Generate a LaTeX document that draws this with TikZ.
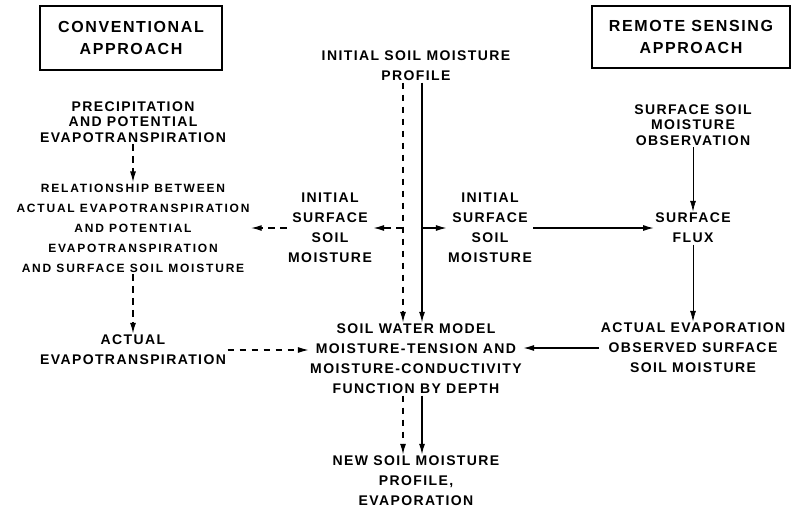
\documentclass[tikz,border=0pt]{standalone}
\usepackage{fontspec}
\newfontfamily\flowfont{Liberation Sans}[LetterSpace=10]
\newfontfamily\relfont{Liberation Sans}[LetterSpace=15]
\usetikzlibrary{arrows.meta}

\begin{document}
\begin{tikzpicture}[x=0.75pt,y=-0.75pt]
\tikzset{etiquette/.style={align=center, inner sep=1pt, font=\fontsize{10.5}{15}\selectfont\flowfont\bfseries},
  serre/.style={etiquette, font=\fontsize{10.5}{11.5}\selectfont\flowfont\bfseries},
  boite/.style={draw, line width=1.6pt, align=center, font=\fontsize{12}{16}\selectfont\flowfont\bfseries},
  fleche/.style={-{Latex[length=8pt,width=4.5pt]}, line width=0.9pt},
  tiret/.style={fleche, dash pattern=on 5pt off 4pt},
  fin/.style={fleche, line width=0.5pt}}
\useasboundingbox (0,0) rectangle (791,511);
\node[boite, minimum width=136pt, minimum height=48pt] (conv) at (131,38) {CONVENTIONAL\\APPROACH};
\node[boite, minimum width=148pt, minimum height=47pt] (remote) at (691,37) {REMOTE SENSING\\APPROACH};
\node[etiquette] (prof) at (416,66) {INITIAL SOIL MOISTURE\\PROFILE};
\node[serre] (precip) at (133,122) {PRECIPITATION\\AND POTENTIAL\\EVAPOTRANSPIRATION};
\node[etiquette, font=\fontsize{9}{15}\selectfont\relfont\bfseries] (rel) at (133,228) {RELATIONSHIP BETWEEN\\ACTUAL EVAPOTRANSPIRATION\\AND POTENTIAL\\EVAPOTRANSPIRATION\\AND SURFACE SOIL MOISTURE};
\node[etiquette] (isl) at (330,228) {INITIAL\\SURFACE\\SOIL\\MOISTURE};
\node[etiquette] (isr) at (490,228) {INITIAL\\SURFACE\\SOIL\\MOISTURE};
\node[serre] (obs) at (693,125) {SURFACE SOIL\\MOISTURE\\OBSERVATION};
\node[etiquette] (flux) at (693,228) {SURFACE\\FLUX};
\node[etiquette] (aet) at (133,350) {ACTUAL\\EVAPOTRANSPIRATION};
\node[etiquette] (model) at (416,359) {SOIL WATER MODEL\\MOISTURE-TENSION AND\\MOISTURE-CONDUCTIVITY\\FUNCTION BY DEPTH};
\node[etiquette] (aevap) at (693,348) {ACTUAL EVAPORATION\\OBSERVED SURFACE\\SOIL MOISTURE};
\node[etiquette] (new) at (416,481) {NEW SOIL MOISTURE\\PROFILE,\\EVAPORATION};
\coordinate (d1) at (403,228);
\coordinate (s1) at (422,228);
\draw[tiret] ([xshift=-9.75pt]prof.south) -- ([xshift=-9.75pt]model.north);
\draw[fleche] ([xshift=4.5pt]prof.south) -- ([xshift=4.5pt]model.north);
\draw[tiret] ([xshift=-9.75pt]model.south) -- ([xshift=-9.75pt]new.north);
\draw[fleche] ([xshift=4.5pt]model.south) -- ([xshift=4.5pt]new.north);
\draw[tiret] (precip) -- (rel);
\draw[tiret] (rel) -- (aet);
\draw[tiret] (d1) -- (isl.east);
\draw[tiret] (isl.west) -- (rel.east);
\draw[fleche] (s1) -- (isr.west);
\draw[fleche] (isr.east) -- (flux.west);
\draw[fin] (obs) -- (flux);
\draw[fin] (flux) -- (aevap);
\draw[tiret] (aet.east) -- (aet.east -| model.west);
\draw[fleche] (aevap.west) -- (aevap.west -| model.east);
\end{tikzpicture}
\end{document}
